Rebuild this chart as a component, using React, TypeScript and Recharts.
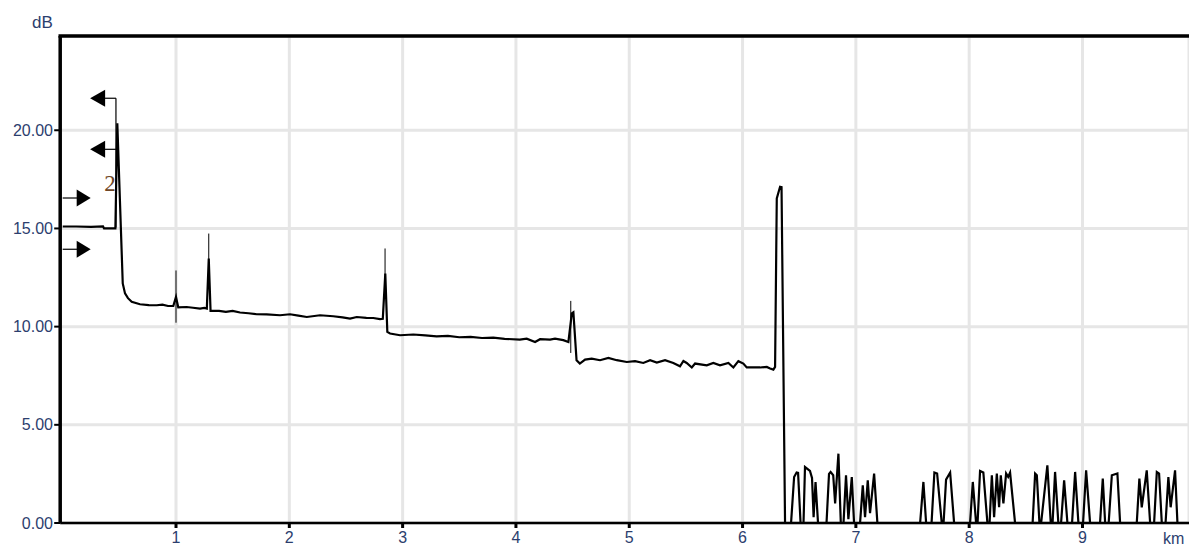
import React from "react";
import {
  CartesianGrid,
  Line,
  LineChart,
  ReferenceDot,
  ReferenceLine,
  XAxis,
  YAxis,
} from "recharts";

// OTDR trace, [km, dB], split by fibre section
const launch: [number, number][] = [
  [0, 15.1], [0.12, 15.1], [0.25, 15.08], [0.356, 15.1], [0.365, 15.0], [0.465, 15.0],
  [0.482, 20.36], [0.53, 12.2], [0.55, 11.69], [0.576, 11.45], [0.609, 11.26],
  [0.682, 11.14], [0.76, 11.1], [0.83, 11.09], [0.88, 11.12], [0.93, 11.05], [0.976, 11.05],
];

const span1: [number, number][] = [
  [1.0, 11.51], [1.02, 10.98], [1.094, 11.0], [1.15, 10.96], [1.212, 10.92], [1.25, 10.95],
  [1.272, 10.92], [1.289, 13.47], [1.305, 10.8], [1.38, 10.8], [1.44, 10.75], [1.5, 10.8],
  [1.565, 10.72], [1.64, 10.68], [1.712, 10.63], [1.8, 10.62], [1.918, 10.58], [2.006, 10.63],
  [2.08, 10.56], [2.154, 10.49], [2.271, 10.58], [2.388, 10.53], [2.47, 10.47], [2.536, 10.41],
  [2.595, 10.49], [2.68, 10.45], [2.741, 10.44], [2.8, 10.38], [2.825, 10.4], [2.847, 12.7],
  [2.865, 9.73], [2.889, 9.65],
];

const span2: [number, number][] = [
  [2.977, 9.56], [3.094, 9.6], [3.2, 9.55], [3.3, 9.5], [3.4, 9.53], [3.5, 9.46], [3.6, 9.48],
  [3.7, 9.42], [3.8, 9.44], [3.9, 9.38], [4.034, 9.34], [4.095, 9.39], [4.169, 9.22],
  [4.213, 9.36], [4.301, 9.34], [4.345, 9.39], [4.418, 9.31], [4.463, 9.22], [4.493, 10.67],
  [4.507, 10.73], [4.535, 8.29], [4.564, 8.12],
];

const span3: [number, number][] = [
  [4.61, 8.32], [4.669, 8.37], [4.742, 8.29], [4.816, 8.41], [4.89, 8.29], [4.978, 8.2],
  [5.051, 8.24], [5.124, 8.15], [5.184, 8.29], [5.243, 8.17], [5.316, 8.29], [5.389, 8.15],
  [5.448, 7.98], [5.478, 8.25], [5.507, 8.15], [5.552, 7.92], [5.581, 8.12], [5.684, 8.03],
  [5.742, 8.15], [5.801, 8.03], [5.875, 8.15], [5.919, 7.92], [5.963, 8.24], [6.007, 8.12],
  [6.037, 7.92], [6.095, 7.92], [6.154, 7.92], [6.214, 7.95], [6.243, 7.87], [6.272, 7.81],
  [6.287, 7.95],
];

const fibreEnd: [number, number][] = [
  [6.302, 16.53], [6.331, 17.12], [6.344, 17.1], [6.375, 0],
];

const noise: [number, number][] = [
  [6.428, 0], [6.455, 2.34], [6.477, 2.57], [6.49, 2.55], [6.512, 0], [6.538, 0], [6.551, 2.85],
  [6.595, 2.65], [6.613, 2.3], [6.627, 0.3], [6.644, 2.09], [6.666, 0], [6.741, 0], [6.763, 2.5],
  [6.777, 2.6], [6.8, 2.43], [6.817, 1.0], [6.846, 3.53], [6.867, 0], [6.891, 0], [6.913, 2.43],
  [6.934, 0.2], [6.964, 2.34], [6.984, 0], [7.037, 0], [7.061, 1.92], [7.081, 0.3], [7.105, 2.17],
  [7.125, 0.5], [7.161, 2.52], [7.19, 0], [7.567, 0], [7.596, 2.09], [7.62, 0], [7.668, 0],
  [7.693, 2.57], [7.717, 2.52], [7.758, 0], [7.774, 0], [7.796, 2.21], [7.832, 2.57], [7.867, 0],
  [8.008, 0], [8.032, 2.09], [8.061, 0], [8.074, 0], [8.096, 2.65], [8.125, 2.57], [8.161, 0],
  [8.18, 0], [8.2, 2.43], [8.22, 0.3], [8.244, 2.52], [8.264, 0.8], [8.279, 2.43], [8.302, 1.0],
  [8.326, 2.52], [8.344, 2.35], [8.361, 2.57], [8.405, 0], [8.56, 0], [8.582, 2.52], [8.597, 2.43],
  [8.62, 0], [8.635, 0], [8.69, 2.94], [8.72, 0], [8.736, 0], [8.758, 2.6], [8.787, 0], [8.811, 0],
  [8.838, 2.17], [8.867, 0], [8.908, 0], [8.935, 2.6], [8.964, 0], [9.005, 0], [9.032, 2.68],
  [9.067, 0], [9.155, 0], [9.179, 2.26], [9.2, 0], [9.231, 0], [9.259, 2.43], [9.308, 2.52],
  [9.332, 0], [9.479, 0], [9.502, 2.26], [9.523, 0.8], [9.567, 2.68], [9.597, 0], [9.632, 0],
  [9.656, 2.6], [9.676, 2.52], [9.7, 0], [9.733, 0], [9.758, 2.34], [9.778, 0.8], [9.817, 2.68],
  [9.838, 0], [9.94, 0],
];

const kmTicks = [1, 2, 3, 4, 5, 6, 7, 8, 9];
const dbTicks = [0, 5, 10, 15, 20];

// event markers: [km, top dB, bottom dB]
const events: [number, number, number][] = [
  [1.0, 12.86, 10.2],
  [1.289, 14.74, 13.3],
  [2.845, 13.98, 12.6],
  [4.484, 11.31, 8.66],
];

// cursor 2 with its arrow flags
const cursorKm = 0.47;
const cursorSpan: [number, number] = [15.05, 21.63];
const leftFlags = [21.63, 19.03];
const leftFlagTip = 0.242;
const leftFlagBase = 0.373;
const rightFlags = [16.55, 13.94];
const rightFlagBase = 0.126;
const rightFlagTip = 0.247;
const cursorLabel = { km: 0.418, db: 16.9, text: "2" };

const data = [...launch, ...span1, ...span2, ...span3, ...fibreEnd, ...noise].map(
  ([km, db]) => ({ km, db })
);

const SANS = "'Liberation Sans', Arial, sans-serif";
const LABEL = "#2c3e6e";

function arrowHead(dir: "left" | "right") {
  return (p: any) => {
    const { cx, cy } = p;
    const w = dir === "left" ? 15 : -14;
    return (
      <path
        d={`M${cx},${cy} L${cx + w},${cy - 8.5} L${cx + w},${cy + 8.5} Z`}
        fill="#000"
      />
    );
  };
}

export default function App() {
  return (
    <div
      style={{
        position: "absolute",
        left: 0,
        top: 0,
        width: 1189,
        height: 545,
        overflow: "hidden",
        background: "#fff",
      }}
    >
      <LineChart
        width={1189}
        height={545}
        data={data}
        margin={{ top: 36, right: 0, bottom: 0, left: 0 }}
      >
        <CartesianGrid stroke="#e6e6e6" strokeWidth={3} />
        <XAxis
          dataKey="km"
          type="number"
          domain={[-0.022, 9.94]}
          ticks={kmTicks}
          height={22}
          tickSize={5}
          tickMargin={4}
          axisLine={{ stroke: "#000", strokeWidth: 2.3 }}
          tickLine={{ stroke: "#000", strokeWidth: 3 }}
          tick={{ fill: LABEL, fontSize: 16, fontFamily: SANS }}
          allowDataOverflow
        />
        <YAxis
          type="number"
          domain={[0, 24.8]}
          ticks={dbTicks}
          width={60.2}
          tickSize={6}
          tickMargin={1.2}
          tickFormatter={(v: number) => v.toFixed(2)}
          axisLine={{ stroke: "#000", strokeWidth: 3.5 }}
          tickLine={{ stroke: "#000", strokeWidth: 2 }}
          tick={{ fill: LABEL, fontSize: 16, fontFamily: SANS }}
          allowDataOverflow
        />
        <ReferenceLine y={24.8} stroke="#000" strokeWidth={3.4} strokeLinecap="square" />

        {events.map(([km, top, bottom]) => (
          <ReferenceLine
            key={km}
            segment={[{ x: km, y: top }, { x: km, y: bottom }]}
            stroke="#000"
            strokeWidth={1}
          />
        ))}

        <ReferenceLine
          segment={[{ x: cursorKm, y: cursorSpan[0] }, { x: cursorKm, y: cursorSpan[1] }]}
          stroke="#000"
          strokeWidth={1.2}
        />
        {leftFlags.map((db) => (
          <ReferenceLine
            key={`ls${db}`}
            segment={[{ x: leftFlagBase, y: db }, { x: cursorKm, y: db }]}
            stroke="#000"
            strokeWidth={1.2}
          />
        ))}
        {leftFlags.map((db) => (
          <ReferenceDot key={`lh${db}`} x={leftFlagTip} y={db} shape={arrowHead("left")} />
        ))}
        {rightFlags.map((db) => (
          <ReferenceLine
            key={`rs${db}`}
            segment={[{ x: 0, y: db }, { x: rightFlagBase, y: db }]}
            stroke="#000"
            strokeWidth={1.2}
          />
        ))}
        {rightFlags.map((db) => (
          <ReferenceDot key={`rh${db}`} x={rightFlagTip} y={db} shape={arrowHead("right")} />
        ))}
        <ReferenceDot
          x={cursorLabel.km}
          y={cursorLabel.db}
          shape={(p: any) => (
            <text
              x={p.cx}
              y={p.cy}
              textAnchor="middle"
              fill="#6e4626"
              fontSize={23}
              fontFamily="'Liberation Serif', 'Times New Roman', serif"
            >
              {cursorLabel.text}
            </text>
          )}
        />

        <Line
          type="linear"
          dataKey="db"
          stroke="#000"
          strokeWidth={2.2}
          dot={false}
          activeDot={false}
          isAnimationActive={false}
        />
      </LineChart>
      <span
        style={{
          position: "absolute",
          left: 32,
          top: 13.5,
          fontFamily: SANS,
          fontSize: 17,
          lineHeight: 1,
          color: LABEL,
        }}
      >
        dB
      </span>
      <span
        style={{
          position: "absolute",
          left: 1163,
          top: 530.5,
          fontFamily: SANS,
          fontSize: 16,
          lineHeight: 1,
          whiteSpace: "nowrap",
          color: LABEL,
        }}
      >
        km
      </span>
    </div>
  );
}
